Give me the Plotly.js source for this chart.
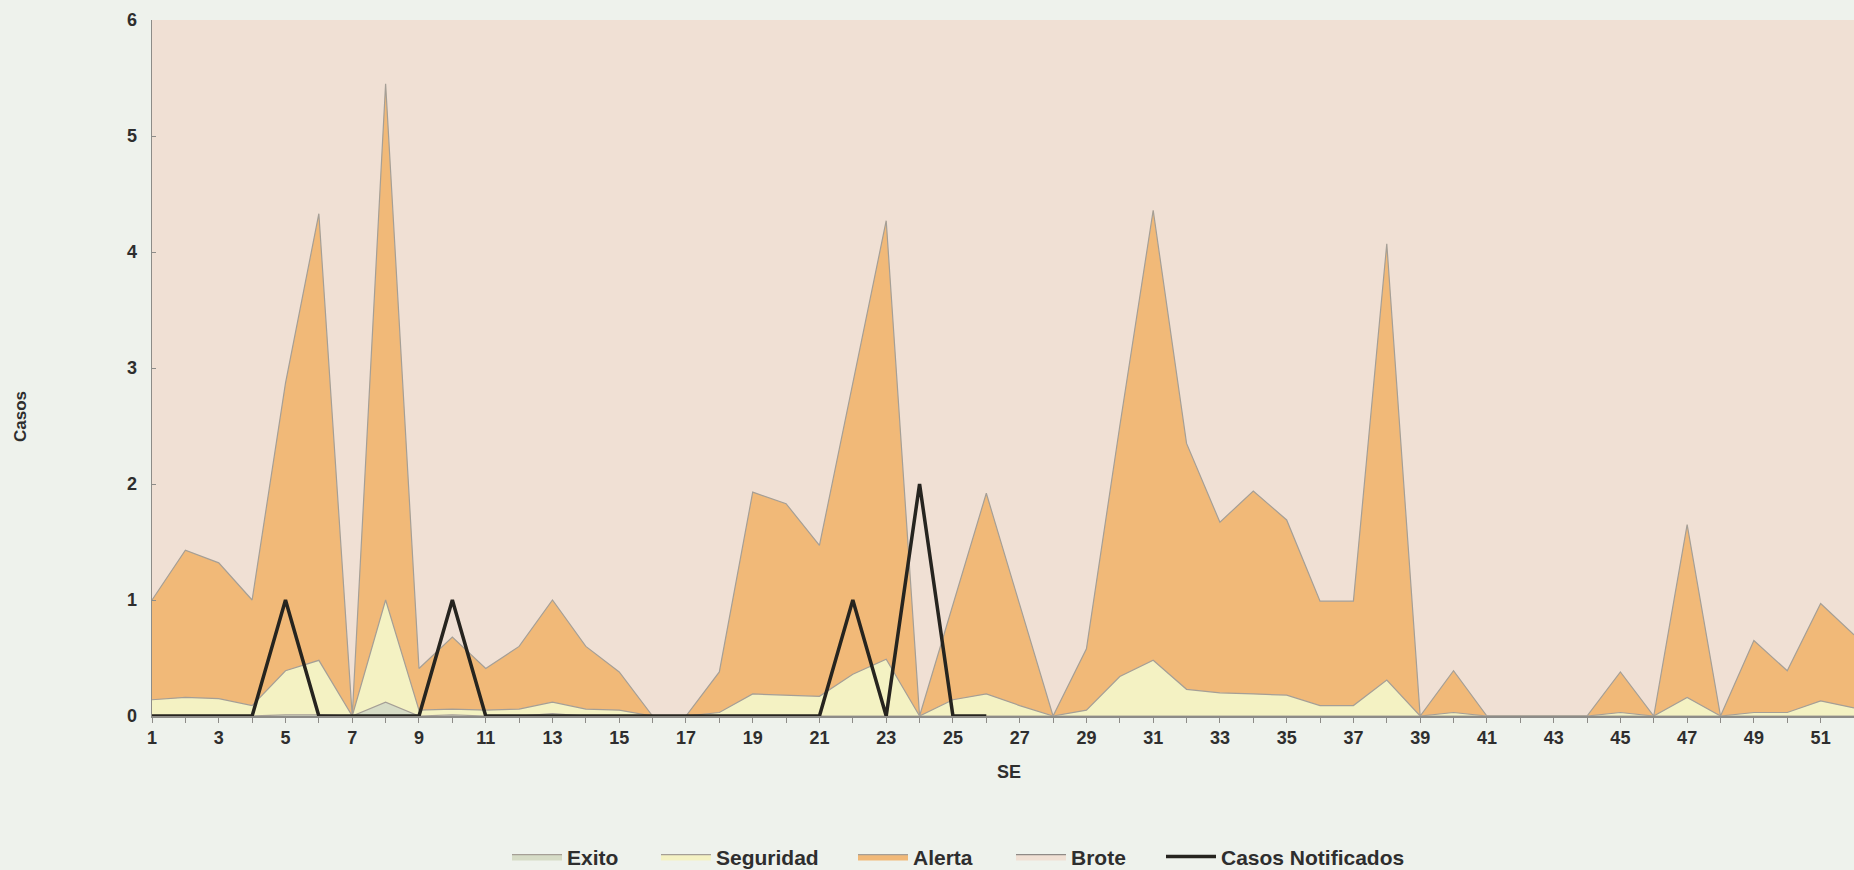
<!DOCTYPE html>
<html>
<head>
<meta charset="utf-8">
<script src="https://cdn.plot.ly/plotly-3.0.1.min.js"></script>
<style>
  html, body { margin: 0; padding: 0; background: #eef2ec; }
  #chart { width: 1854px; height: 870px; }
</style>
</head>
<body>
<div id="chart"></div>
<script>
// Semana epidemiológica (SE)
const weeks = [1,2,3,4,5,6,7,8,9,10,11,12,13,14,15,16,17,18,19,20,21,22,23,24,25,26,
               27,28,29,30,31,32,33,34,35,36,37,38,39,40,41,42,43,44,45,46,47,48,49,50,51,52];
const tickWeeks = [1,3,5,7,9,11,13,15,17,19,21,23,25,27,29,31,33,35,37,39,41,43,45,47,49,51];
const tickLabels = ["1","3","5","7","9","11","13","15","17","19","21","23","25","27","29","31","33","35","37","39","41","43","45","47","49","51"];

// Upper limit of each zone of the endemic channel (cases)
const exito = [0,0,0,0,0.01,0.01,0,0.12,0,0.01,0,0,0.02,0,0,0,0,0,0,0,0,0,0,0,0,0,
               0,0,0,0,0,0,0,0,0,0,0,0,0,0,0,0,0,0,0,0,0,0,0,0,0,0];
const seguridad = [0.14,0.16,0.15,0.09,0.39,0.48,0,1.0,0.05,0.06,0.05,0.06,0.12,0.06,0.05,0,0,0.03,0.19,0.18,0.17,0.36,0.49,0,0.14,0.19,
                   0.09,0,0.05,0.34,0.48,0.23,0.2,0.19,0.18,0.09,0.09,0.31,0,0.03,0,0,0,0,0.03,0,0.16,0,0.03,0.03,0.13,0.07];
const alerta = [1.0,1.43,1.32,1.0,2.87,4.33,0,5.45,0.41,0.68,0.41,0.6,1.0,0.6,0.38,0,0,0.38,1.93,1.83,1.47,2.86,4.27,0,0.95,1.92,
                0.96,0,0.58,2.5,4.36,2.35,1.67,1.94,1.69,0.99,0.99,4.07,0,0.39,0,0,0,0,0.38,0,1.65,0,0.65,0.39,0.97,0.7];
// Casos notificados (up to SE 26)
const casosWeeks = [1,2,3,4,5,6,7,8,9,10,11,12,13,14,15,16,17,18,19,20,21,22,23,24,25,26];
const casos = [0,0,0,0,1,0,0,0,0,1,0,0,0,0,0,0,0,0,0,0,0,1,0,2,0,0];

const edge = '#a59f96';
const colExito = '#d6dcc6';
const colSeg = '#f4f2c3';
const colAlerta = '#f1b978';
const colBrote = '#f0e0d4';

const traces = [
  { x: weeks, y: exito, name: 'Exito', type: 'scatter', mode: 'lines', legend: 'legend',
    fill: 'tozeroy', fillcolor: colExito, line: { color: edge, width: 1.2 } },
  { x: weeks, y: seguridad, name: 'Seguridad', type: 'scatter', mode: 'lines', legend: 'legend2',
    fill: 'tonexty', fillcolor: colSeg, line: { color: edge, width: 1.2 } },
  { x: weeks, y: alerta, name: 'Alerta', type: 'scatter', mode: 'lines', legend: 'legend3',
    fill: 'tonexty', fillcolor: colAlerta, line: { color: edge, width: 1.2 } },
  { x: weeks, y: weeks.map(() => null), name: 'Brote', type: 'scatter', mode: 'lines', legend: 'legend4',
    fill: 'tonexty', fillcolor: colBrote, line: { color: '#8f8a86', width: 1.2 } },
  { x: casosWeeks, y: casos, name: 'Casos Notificados', type: 'scatter', mode: 'lines', legend: 'legend5',
    line: { color: '#26241f', width: 3.5 } }
];

const narrow = '"Liberation Sans Narrow", "Arial Narrow", "Liberation Sans", Arial, sans-serif';
const tickFont = { family: narrow, size: 18, color: '#2e2e2e', weight: 'bold' };

function legendAt(px) {
  return {
    orientation: 'h', xref: 'container', yref: 'container',
    x: (px - 4) / 1854, xanchor: 'left', y: 0.015, yanchor: 'middle',
    bgcolor: 'rgba(0,0,0,0)', itemwidth: 50,
    font: { family: narrow, size: 21, color: '#2e2e2e', weight: 'bold' }
  };
}

const layout = {
  width: 1854, height: 870,
  paper_bgcolor: '#eef2ec',
  plot_bgcolor: colBrote,
  margin: { l: 152, r: 0, t: 20, b: 154, autoexpand: false },
  showlegend: true,
  legend: legendAt(511),
  legend2: legendAt(660),
  legend3: legendAt(857),
  legend4: legendAt(1015),
  legend5: legendAt(1165),
  xaxis: {
    range: [1, 52], tickvals: tickWeeks, ticktext: tickLabels,
    showgrid: false, zeroline: false, showline: true, linecolor: '#8d8c88', linewidth: 1.5,
    ticks: 'outside', ticklen: 5, tickcolor: '#8d8c88',
    minor: { dtick: 1, tick0: 0, ticks: 'outside', ticklen: 5, tickcolor: '#8d8c88' },
    tickfont: tickFont, fixedrange: true
  },
  yaxis: {
    range: [0, 6], dtick: 1, showgrid: false, zeroline: false,
    showline: true, linecolor: '#8d8c88', linewidth: 1.5,
    ticks: 'inside', ticklen: 4, tickcolor: '#8d8c88',
    tickfont: tickFont, ticklabelstandoff: 10, fixedrange: true
  },
  annotations: [
    { text: 'Casos', xref: 'paper', yref: 'paper', x: -0.0776, y: 0.431, showarrow: false,
      textangle: -90, xanchor: 'center', yanchor: 'middle',
      font: { family: narrow, size: 17, color: '#2e2e2e', weight: 'bold' } },
    { text: 'SE', xref: 'paper', yref: 'paper', x: 0.5035, y: -0.0805, showarrow: false,
      xanchor: 'center', yanchor: 'middle',
      font: { family: narrow, size: 18, color: '#2e2e2e', weight: 'bold' } }
  ]
};

Plotly.newPlot('chart', traces, layout, { displayModeBar: false, staticPlot: true });
</script>
</body>
</html>
